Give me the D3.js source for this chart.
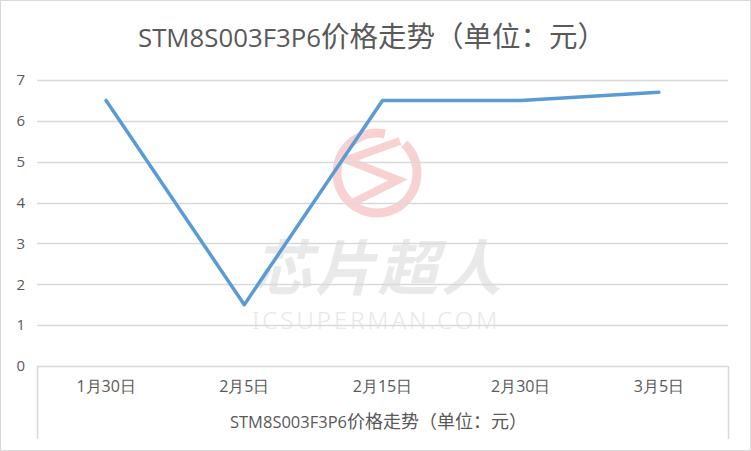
<!DOCTYPE html>
<html><head><meta charset="utf-8">
<script src="https://cdn.jsdelivr.net/npm/d3@7/dist/d3.min.js"></script>
<style>body{margin:0;background:#fff}svg{display:block}</style>
</head><body>
<svg id="c" width="751" height="451"></svg>
<script>
const categories = ["1月30日","2月5日","2月15日","2月30日","3月5日"];
const values = [6.5, 1.5, 6.5, 6.5, 6.7];
const yTicks = [0,1,2,3,4,5,6,7];
const titleLatin = "STM8S003F3P6";
const titleCJK = "价格走势（单位：元）";

const svg = d3.select("#c");
const L = 37, R = 728, T = 80, B = 366;
const x = d3.scaleBand().domain(categories).range([L, R]);
const y = d3.scaleLinear().domain([0, 7]).range([B, T]);
const cjk = "'Noto Sans CJK SC',sans-serif";
const latin = "'Open Sans','Noto Sans',sans-serif";

svg.append("rect").attr("x",0.5).attr("y",0.5).attr("width",750).attr("height",450)
  .attr("fill","#fff").attr("stroke","#d9d9d9");

// watermark
const wm = svg.append("g");
const cx = 377, cy = 173, r = 40;
const arc = d3.arc().innerRadius(r-4.5).outerRadius(r+4.5).startAngle(0.75).endAngle(2*Math.PI+0.2);
wm.append("path").attr("transform",`translate(${cx},${cy})`).attr("d",arc()).attr("fill","#f8d2d2");
wm.append("path").attr("d","M400,141 L347,160 L398,180 L352,203").attr("fill","none")
  .attr("stroke","#f8d2d2").attr("stroke-width",8).attr("stroke-linejoin","miter");
const wt = wm.append("text").attr("text-anchor","middle");
wt.append("tspan").attr("x",378).attr("y",290)
  .attr("font-family",cjk).attr("font-weight","bold")
  .attr("font-style","italic").attr("font-size",60).attr("fill","#e9e9e9")
  .attr("letter-spacing",3).text("芯片超人");
wt.append("tspan").attr("x",376).attr("y",329)
  .attr("font-family","'Noto Sans',sans-serif").attr("font-weight","300")
  .attr("font-size",24).attr("fill","#e8e8e8").attr("letter-spacing",3).text("ICSUPERMAN.COM");

// title
const tt = svg.append("text").attr("x",138).attr("y",47).attr("fill","#595959");
tt.append("tspan").attr("font-family",latin).attr("font-size",25)
  .attr("textLength",183).attr("lengthAdjust","spacingAndGlyphs").text(titleLatin);
tt.append("tspan").attr("font-family",cjk).attr("font-size",28.5).text(titleCJK);

// gridlines
svg.append("g").selectAll("line").data(yTicks).join("line")
  .attr("x1",L).attr("x2",R).attr("y1",d=>Math.round(y(d))+0.5).attr("y2",d=>Math.round(y(d))+0.5)
  .attr("stroke","#d9d9d9").attr("stroke-width",1.5);

// y labels
const yAxis = svg.append("g").attr("transform",`translate(${L-12},0)`)
  .call(d3.axisLeft(y).tickValues(yTicks).tickSize(0).tickPadding(0).tickFormat(d3.format("d")));
yAxis.select(".domain").remove();
yAxis.selectAll("text").attr("font-family",latin)
  .attr("font-size",15).attr("fill","#595959");

// table frame below axis
svg.append("line").attr("x1",L+0.5).attr("x2",L+0.5).attr("y1",B).attr("y2",439).attr("stroke","#d9d9d9").attr("stroke-width",1.5);
svg.append("line").attr("x1",R+0.5).attr("x2",R+0.5).attr("y1",B).attr("y2",439).attr("stroke","#d9d9d9").attr("stroke-width",1.5);

// x labels
const xAxis = svg.append("g").attr("transform",`translate(0,${B})`)
  .call(d3.axisBottom(x).tickSize(0).tickPadding(15));
xAxis.select(".domain").remove();
xAxis.selectAll("text").attr("font-family",latin)
  .attr("font-size",16).attr("fill","#595959");

// axis title
const at = svg.append("text").attr("x",230).attr("y",428).attr("fill","#595959");
at.append("tspan").attr("font-family",latin).attr("font-size",16)
  .attr("textLength",117).attr("lengthAdjust","spacingAndGlyphs").text(titleLatin);
at.append("tspan").attr("font-family",cjk).attr("font-size",18).text(titleCJK);

// line
const line = d3.line().x((d,i)=>x(categories[i])+x.bandwidth()/2).y(d=>y(d));
svg.append("path").datum(values).attr("d",line).attr("fill","none")
  .attr("stroke","#5b9bd5").attr("stroke-width",3.5).attr("stroke-linejoin","round").attr("stroke-linecap","round");
</script>
</body></html>
